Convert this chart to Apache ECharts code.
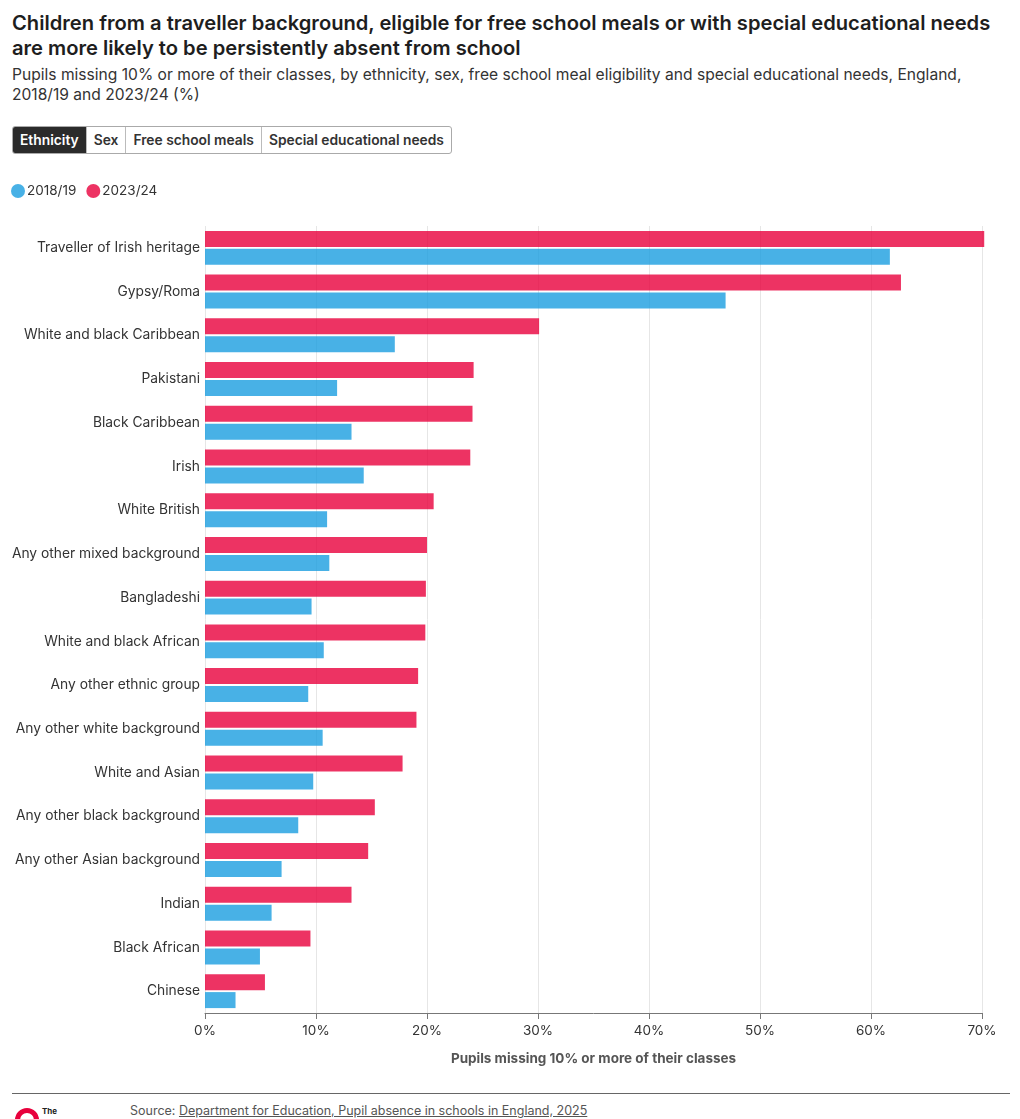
<!DOCTYPE html>
<html>
<head>
<meta charset="UTF-8">
<script src="https://cdn.jsdelivr.net/npm/echarts@6.0.0/dist/echarts.min.js"></script>
<style>
    body { margin: 0; background: #fff; font-family: Inter, "Noto Sans", sans-serif; color: #222; }
    #title { position: absolute; left: 12px; top: 10px; width: 1000px; font-size: 20.15px; font-weight: 600; line-height: 25px; color: #1e1e1e; }
    #subtitle { position: absolute; left: 12px; top: 65px; width: 1000px; font-size: 15.6px; line-height: 20px; color: #333; }
    #tabs { position: absolute; left: 12px; top: 126px; display: flex; border: 1px solid #aaa; border-radius: 3px; overflow: hidden; }
    #tabs div { font-size: 13.8px; font-weight: 600; padding: 0 7px; height: 26px; line-height: 26px; border-left: 1px solid #bbb; color: #333; }
    #tabs div.on { background: #2b2b2b; color: #fff; border-left: none; }
    #chart { position: absolute; left: 0; top: 170px; width: 1020px; height: 905px; }
    #rule { position: absolute; left: 12px; top: 1093px; width: 998px; border-top: 1px solid #666; }
    #source { position: absolute; left: 130px; top: 1103px; font-size: 12.5px; color: #555; }
    #source a { color: #555; text-decoration: underline; }
    #logo { position: absolute; left: 15px; top: 1108px; width: 14px; height: 14px; border: 5px solid #e8003c; border-radius: 50%; }
    #logotxt { position: absolute; left: 42px; top: 1106px; font-size: 8px; font-weight: 700; color: #222; }
</style>
</head>
<body>
<div id="title">Children from a traveller background, eligible for free school meals or with special educational needs are more likely to be persistently absent from school</div>
<div id="subtitle">Pupils missing 10% or more of their classes, by ethnicity, sex, free school meal eligibility and special educational needs, England, 2018/19 and 2023/24 (%)</div>
<div id="tabs">
    <div class="on">Ethnicity</div>
    <div>Sex</div>
    <div>Free school meals</div>
    <div>Special educational needs</div>
</div>
<div id="chart"></div>
<div id="rule"></div>
<div id="logo"></div>
<div id="logotxt">The</div>
<div id="source">Source: <a>Department for Education, Pupil absence in schools in England, 2025</a></div>
<script>
    var categories = ['Traveller of Irish heritage', 'Gypsy/Roma', 'White and black Caribbean', 'Pakistani',
        'Black Caribbean', 'Irish', 'White British', 'Any other mixed background', 'Bangladeshi',
        'White and black African', 'Any other ethnic group', 'Any other white background', 'White and Asian',
        'Any other black background', 'Any other Asian background', 'Indian', 'Black African', 'Chinese'];
    var y2019 = [61.7, 46.9, 17.1, 11.9, 13.2, 14.3, 11.0, 11.2, 9.6, 10.7, 9.3, 10.6, 9.75, 8.4, 6.9, 6.0, 4.95, 2.75];
    var y2024 = [70.2, 62.7, 30.1, 24.2, 24.1, 23.9, 20.6, 20.0, 19.9, 19.85, 19.2, 19.05, 17.8, 15.3, 14.7, 13.2, 9.5, 5.4];
    var xTicks = [0, 70, 10]; // min, max, step

    var myChart = echarts.init(document.getElementById('chart'));
    var option = {
        animation: false,
        textStyle: {fontFamily: 'Inter, "Noto Sans", sans-serif'},
        legend: {
            left: 11,
            top: 14,
            padding: 0,
            icon: 'circle',
            itemWidth: 14,
            itemHeight: 14,
            itemGap: 10,
            data: ['2018/19', '2023/24'],
            textStyle: {fontSize: 13.5, color: '#333', padding: [0, 0, 0, -3]}
        },
        grid: {left: 205, right: 38, top: 56, bottom: 62},
        xAxis: {
            type: 'value',
            min: xTicks[0],
            max: xTicks[1],
            interval: xTicks[2],
            axisLine: {show: true, lineStyle: {color: '#777'}},
            axisTick: {show: true, length: 6, lineStyle: {color: '#777'}},
            axisLabel: {formatter: '{value}%', fontSize: 13.5, color: '#333', margin: 11},
            splitLine: {show: true, lineStyle: {color: '#e6e6e6'}},
            name: 'Pupils missing 10% or more of their classes',
            nameLocation: 'middle',
            nameGap: 39,
            nameTextStyle: {fontSize: 13.5, fontWeight: 'bold', color: '#555'}
        },
        yAxis: {
            type: 'category',
            inverse: true,
            data: categories,
            axisLine: {show: false},
            axisTick: {show: false},
            axisLabel: {fontSize: 13.8, color: '#333', margin: 5}
        },
        series: [
            {
                name: '2023/24',
                type: 'bar',
                data: y2024,
                barWidth: 16,
                barGap: '12%',
                clip: false,
                itemStyle: {color: '#e8003c', opacity: 0.8}
            },
            {
                name: '2018/19',
                type: 'bar',
                data: y2019,
                barWidth: 16,
                barGap: '12%',
                clip: false,
                itemStyle: {color: '#1a9ee0', opacity: 0.8}
            }
        ]
    };
    myChart.setOption(option);
</script>
</body>
</html>
